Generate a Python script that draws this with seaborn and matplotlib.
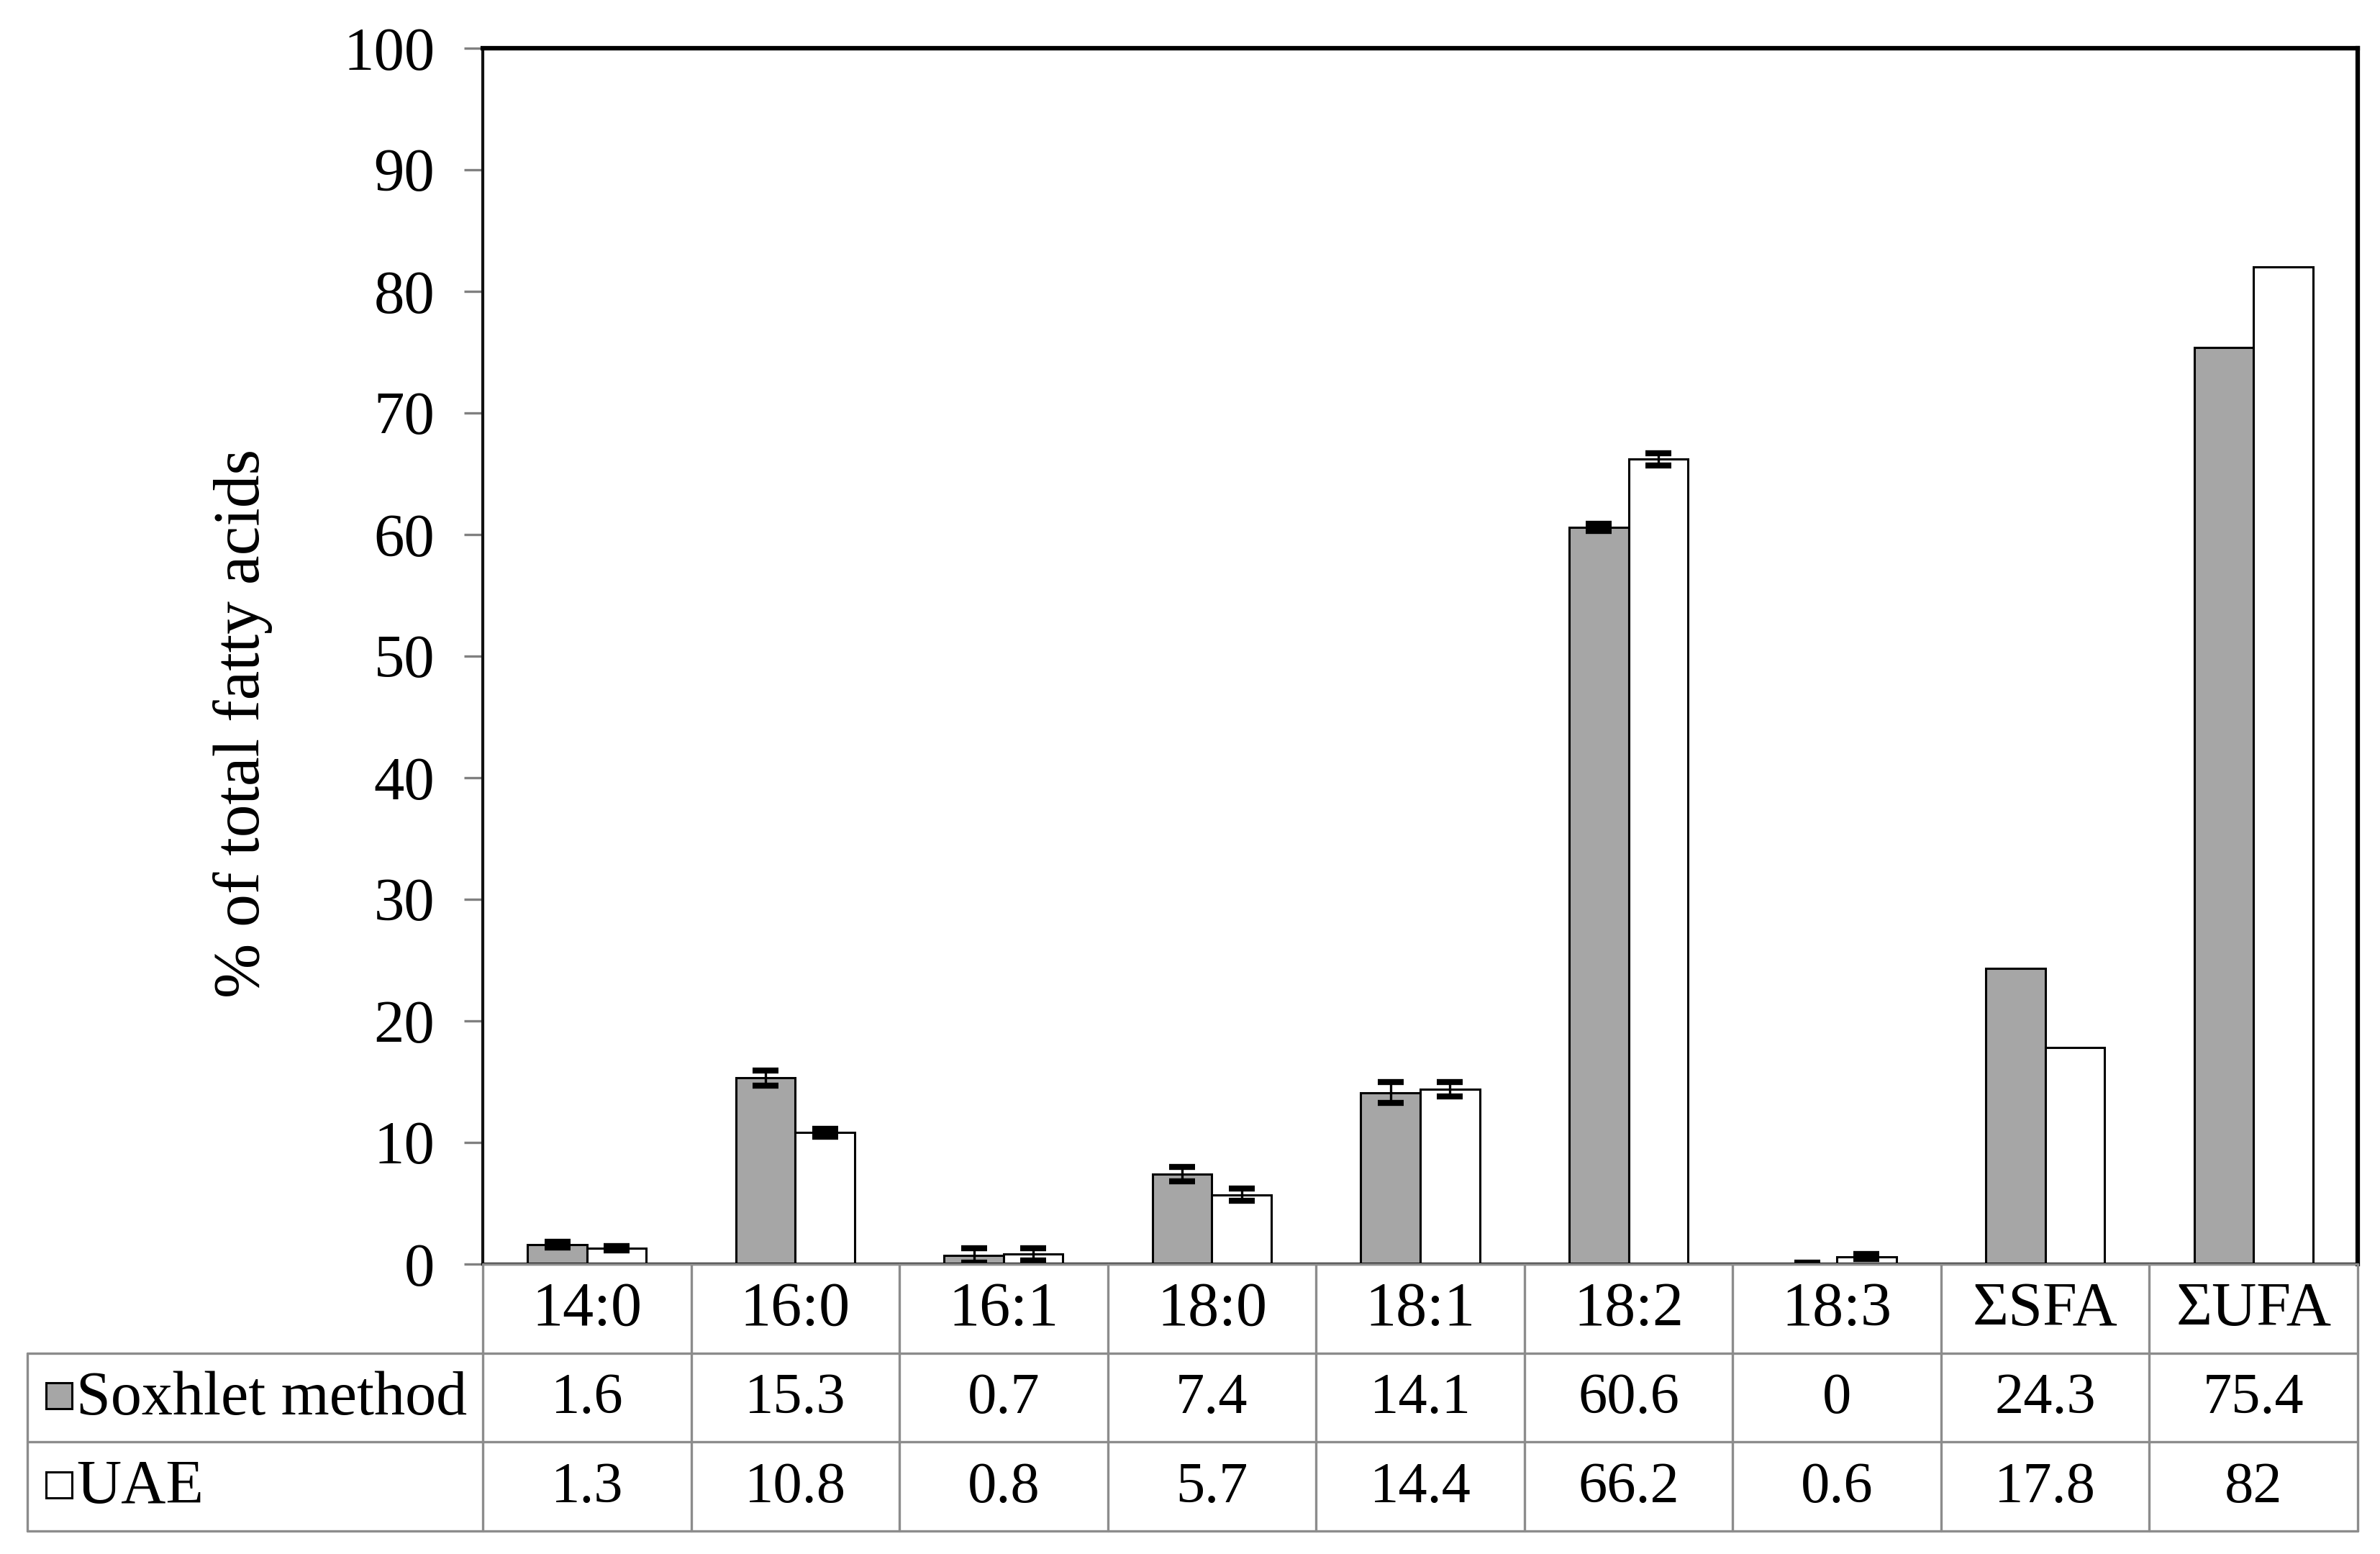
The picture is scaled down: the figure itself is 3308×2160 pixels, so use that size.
import numpy as np
import pandas as pd
import matplotlib
matplotlib.use("Agg")
import matplotlib.pyplot as plt
import seaborn as sns

# ---- data ----
categories = ["14:0", "16:0", "16:1", "18:0", "18:1", "18:2", "18:3", "ΣSFA", "ΣUFA"]
methods = ["Soxhlet method", "UAE"]
soxhlet = [1.6, 15.3, 0.7, 7.4, 14.1, 60.6, 0, 24.3, 75.4]
uae = [1.3, 10.8, 0.8, 5.7, 14.4, 66.2, 0.6, 17.8, 82]
soxhlet_err = [0.25, 0.6, 0.6, 0.6, 0.85, 0.3, 0.1, 0, 0]
uae_err = [0.2, 0.35, 0.5, 0.5, 0.6, 0.5, 0.2, 0, 0]
yticks = [0, 10, 20, 30, 40, 50, 60, 70, 80, 90, 100]
ylabel = "% of total fatty acids"
colors = {"Soxhlet method": "#a6a6a6", "UAE": "#ffffff"}

df = pd.DataFrame({
    "category": categories * 2,
    "method": [methods[0]] * len(categories) + [methods[1]] * len(categories),
    "value": soxhlet + uae,
})

sns.set_style("white")
plt.rcParams["font.family"] = ["Liberation Serif", "DejaVu Serif"]
plt.rcParams["text.color"] = "black"
plt.rcParams["axes.labelcolor"] = "black"
FS_TICK = 61
FS_HEAD = 62
FS_VAL = 58
FS_LAB = 66

W, H = 3308, 2160
fig = plt.figure(figsize=(W / 100, H / 100), dpi=100)

# layout (pixels)
ax_l, ax_r, ax_t, ax_b = 671, 3277, 67, 1757
tb_l, tb_b = 38, 2128
ax = fig.add_axes([ax_l / W, 1 - ax_b / H, (ax_r - ax_l) / W, (ax_b - ax_t) / H])

sns.barplot(data=df, x="category", y="value", hue="method", order=categories,
            hue_order=methods, palette=colors, edgecolor="black", linewidth=2.2,
            width=0.57, errorbar=None, legend=False, ax=ax, zorder=2)

for container, vals, errs in zip(ax.containers, [soxhlet, uae], [soxhlet_err, uae_err]):
    xs = [p.get_x() + p.get_width() / 2 for p in container]
    sel = [i for i, e in enumerate(errs) if e > 0]
    ax.errorbar([xs[i] for i in sel], [vals[i] for i in sel],
                yerr=[errs[i] for i in sel], fmt="none", ecolor="black",
                elinewidth=2.4, capsize=13, capthick=6, zorder=3)

ax.set_xlim(-0.5, len(categories) - 0.5)
ax.set_ylim(0, 100)
ax.set_yticks(yticks)
ax.set_yticklabels([str(t) for t in yticks], fontsize=FS_TICK, color="black")
ax.set_xticks([])
ax.set_xlabel("")
ax.set_ylabel(ylabel, fontsize=FS_LAB, color="black")
ax.yaxis.label.set_va("center")
ax.yaxis.set_label_coords(-0.128, 0.445)
ax.tick_params(axis="y", which="both", left=True, length=19, width=2.4,
               color="#808080", pad=29, direction="out", labelcolor="black")
for side in ["top", "right"]:
    ax.spines[side].set_color("black")
    ax.spines[side].set_linewidth(4.5)
ax.spines["left"].set_color("#111111")
ax.spines["left"].set_linewidth(3)
ax.spines["bottom"].set_color("black")
ax.spines["bottom"].set_linewidth(3)

# ---- data table below ----
tab = fig.add_axes([tb_l / W, 1 - tb_b / H, (ax_r - tb_l) / W, (tb_b - ax_b) / H])
n = len(categories)
cat_w = (ax_r - ax_l) / n
label_w = (ax_l - tb_l) / cat_w
x0 = -0.5 - label_w
tab.set_xlim(x0, n - 0.5)
tab.set_ylim(3, 0)
tab.axis("off")
gc, glw = "#8c8c8c", 2.4
tab.plot([-0.5, n - 0.5], [0, 0], color=gc, lw=glw, clip_on=False)
for yy in [1, 2, 3]:
    tab.plot([x0, n - 0.5], [yy, yy], color=gc, lw=glw, clip_on=False)
for k in range(n + 1):
    tab.plot([-0.5 + k, -0.5 + k], [0, 3], color=gc, lw=glw, clip_on=False)
tab.plot([x0, x0], [1, 3], color=gc, lw=glw, clip_on=False)

for i, c in enumerate(categories):
    tab.text(i, 0.52, c, ha="center", va="center", fontsize=FS_HEAD, color="black")
for r, vals in enumerate([soxhlet, uae], start=1):
    for i, v in enumerate(vals):
        tab.text(i, r + 0.52, f"{v:g}", ha="center", va="center", fontsize=FS_VAL,
                 color="black")

key_x = x0 + (82 - tb_l) / cat_w
txt_x = x0 + (106 - tb_l) / cat_w
for r, m in enumerate(methods, start=1):
    tab.plot([key_x], [r + 0.48], marker="s", markersize=26, markerfacecolor=colors[m],
             markeredgecolor="black", markeredgewidth=2.2, linestyle="none", clip_on=False)
    tab.text(txt_x, r + 0.52, m, ha="left", va="center", fontsize=FS_HEAD, color="black")

fig.savefig("out.png", dpi=100, facecolor="white")
